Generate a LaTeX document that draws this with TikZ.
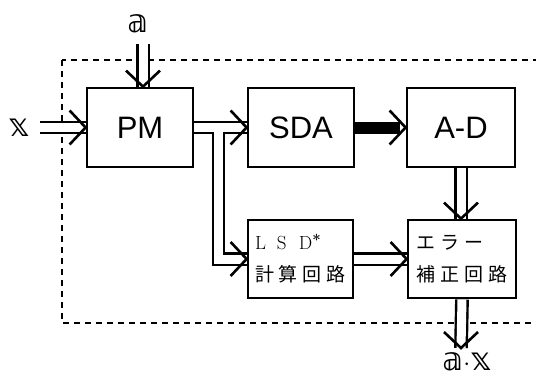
\documentclass[tikz,border=0pt]{standalone}
\usepackage{fontspec}
\setsansfont{Liberation Sans}
\newfontfamily\jp{Noto Sans CJK JP}
\newfontfamily\dvs{DejaVu Sans}
\usetikzlibrary{arrows.meta,calc}
\newcommand\jsp{\hspace{5pt}}
\newcommand\lsdc[1]{\makebox[22pt][l]{#1}}
\newcommand\chevR[1]{\draw[chev] ($(#1)+(-16,-17)$) -- (#1) -- ($(#1)+(-16,17)$);}
\newcommand\chevD[1]{\draw[chev] ($(#1)+(-17,-16)$) -- (#1) -- ($(#1)+(17,-16)$);}
\tikzset{
  blk/.style={draw, line width=2.8pt, minimum width=106pt, minimum height=79pt, inner sep=0pt,
    font=\sffamily\fontsize{31}{31}\selectfont},
  sblk/.style={draw, line width=2.8pt, minimum width=106pt, minimum height=78pt, inner sep=0pt,
    align=left, font=\fontsize{19}{32}\selectfont},
  dbl/.style={double distance=9pt, line width=2.4pt},
  thk/.style={line width=12pt, shorten >=6pt},
  chev/.style={line width=2.6pt, line join=miter},
  lbl/.style={font=\dvs\fontsize{32}{32}\selectfont, inner sep=0pt},
  frame/.style={dashed, dash pattern=on 6pt off 5pt, line width=1.5pt}
}
\begin{document}
\begin{tikzpicture}[x=1pt,y=-1pt]
\useasboundingbox (0,0) rectangle (536,378);
\begin{scope}
\clip (0,0) rectangle (536,378);
\draw[frame] (62,60) rectangle (560,323);
\end{scope}
\node[blk] (pm) at (140,127.5) {PM};
\node[blk] (sda) at (301,127.5) {SDA};
\node[blk, minimum width=108pt] (ad) at (461,127.5) {A-D};
\node[sblk, minimum width=105pt] (lsd) at (300.5,259) {\lsdc{L}\lsdc{S}D\raisebox{4pt}{\fontsize{15}{15}\selectfont\bfseries *}\\{\jp 計\jsp 算\jsp 回\jsp 路}};
\node[sblk, minimum width=108pt] (err) at (462,259) {{\jp エ\jsp ラ\jsp ー}\\{\jp 補\jsp 正\jsp 回\jsp 路}};
\node[lbl] (alab) at (138,24) {𝕒};
\node[lbl] (xlab) at (19,128) {𝕩};
\node[lbl] (axlab) at (467,362) {𝕒$\cdot$𝕩};
\coordinate (ain) at (143,44);
\coordinate (xin) at (40,127.5);
\coordinate (out) at (461,348);
\coordinate (br) at (218.5,131.5);
\coordinate (pmtop) at (ain |- pm.north);
\coordinate (errtop) at (ad.south |- err.north);
\draw[dbl] (ain) -- (pmtop);
\chevD{pmtop}
\draw[dbl] (xin) -- (pm.west);
\chevR{pm.west}
\draw[dbl] (pm.east) -- (sda.west);
\chevR{sda.west}
\draw[dbl] (br) |- (lsd.west);
\chevR{lsd.west}
\draw[thk] (sda.east) -- (ad.west);
\chevR{ad.west}
\draw[dbl] (ad.south) -- (errtop);
\chevD{errtop}
\draw[dbl] (lsd.east) -- (err.west);
\chevR{err.west}
\draw[dbl] (err.south) -- (out);
\chevD{out}
\end{tikzpicture}
\end{document}
